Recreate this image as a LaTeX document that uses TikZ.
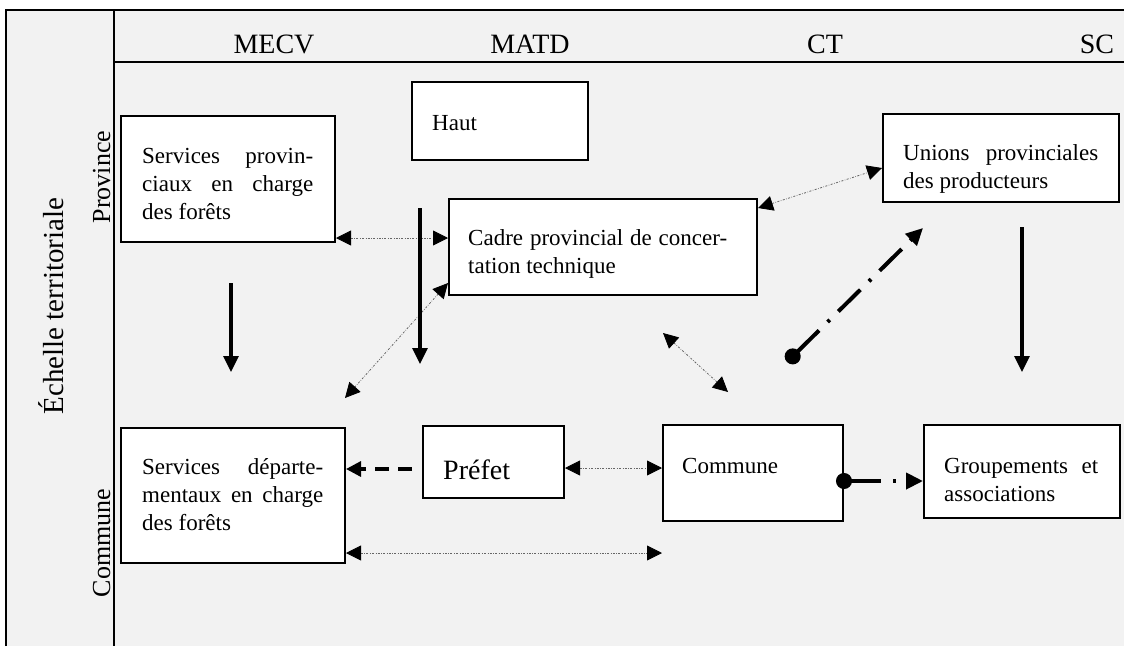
\documentclass[tikz,border=0pt]{standalone}
\usepackage{fontspec}
\setmainfont{Liberation Serif}
\usetikzlibrary{arrows.meta,calc}
\definecolor{bggray}{HTML}{F2F2F2}
\begin{document}
\begin{tikzpicture}[x=1pt,y=-1pt,
  frame/.style={line width=2pt, draw=black},
  box/.style={draw=black, line width=2pt, fill=white, inner sep=0pt, anchor=north west},
  txt/.style={inner sep=0pt, anchor=base west, font=\fontsize{23}{28}\selectfont},
  head/.style={inner sep=0pt, anchor=base, font=\fontsize{28}{32}\selectfont},
  side/.style={inner sep=0pt, anchor=base, rotate=90, font=\fontsize{26}{30}\selectfont},
  dots/.style={line width=0.8pt, draw=black!60, dash pattern=on 2pt off 1.5pt on 0.6pt off 1.5pt,
    {Triangle[length=15pt,width=15pt,black]}-{Triangle[length=15pt,width=15pt,black]}},
  solidarrow/.style={line width=3.2pt, -{Triangle[length=16pt,width=15pt]}},
  dasharrow/.style={line width=3.2pt, dash pattern=on 14pt off 9pt, -{Triangle[length=15pt,width=15pt]}},
  dotdash/.style={line width=4pt, dash pattern=on 31pt off 12pt on 3pt off 12pt,
    {Circle[length=16pt]}-{Triangle[length=17pt,width=16pt]}}]
\useasboundingbox (0,0) rectangle (1124,646);
% background and frame
\fill[bggray] (6,10) rectangle (1124,646);
\draw[frame] (6,646) -- (6,10) -- (1124,10);
\draw[frame] (114,10) -- (114,646);
\draw[frame] (114,62) -- (1124,62);
% headers
\node[head] (mecv) at (274,53) {MECV};
\node[head] (matd) at (530,53) {MATD};
\node[head] (ct) at (825,53) {CT};
\node[head] (sc) at (1097,53) {SC};
\node[side, font=\fontsize{29}{34}\selectfont] (echelle) at (63,306) {Échelle territoriale};
\node[side] (prov) at (110,177) {Province};
\node[side] (comm) at (110,543) {Commune};
% boxes
\node[box, minimum width=214pt, minimum height=126pt] (sp) at (120,115) {};
\node[box, minimum width=176pt, minimum height=78pt] (haut) at (411,81) {};
\node[box, minimum width=308pt, minimum height=96pt] (cadre) at (448,198) {};
\node[box, minimum width=236pt, minimum height=88pt] (unions) at (882,113) {};
\node[box, minimum width=224pt, minimum height=135pt] (sd) at (120,427) {};
\node[box, minimum width=141pt, minimum height=72pt] (prefet) at (422,425) {};
\node[box, minimum width=180pt, minimum height=96pt] (commune) at (662,424) {};
\node[box, minimum width=196pt, minimum height=93pt] (groupe) at (923,424) {};
% texts
\node[txt] (sp-t) at (142,163) {\parbox[t]{171pt}{\makebox[\linewidth][s]{Services provin-}\\\makebox[\linewidth][s]{ciaux en charge}\\des forêts}};
\node[txt] (haut-t) at (432,130) {Haut};
\node[txt] (cadre-t) at (468,245) {\parbox[t]{259pt}{\makebox[\linewidth][s]{Cadre provincial de concer-}\\tation technique}};
\node[txt] (unions-t) at (903,160) {\parbox[t]{195pt}{\makebox[\linewidth][s]{Unions provinciales}\\des producteurs}};
\node[txt] (sd-t) at (142,474) {\parbox[t]{181pt}{\makebox[\linewidth][s]{Services départe-}\\\makebox[\linewidth][s]{mentaux en charge}\\des forêts}};
\node[txt, font=\fontsize{28}{32}\selectfont] (prefet-t) at (443,479) {Préfet};
\node[txt] (commune-t) at (682,473) {Commune};
\node[txt] (groupe-t) at (944,473) {\parbox[t]{154pt}{\makebox[\linewidth][s]{Groupements et}\\associations}};
% free connector ends
\coordinate (v1a) at (420,208); \coordinate (v1b) at (420,364);
\coordinate (v2a) at (231,283); \coordinate (v2b) at (231,372);
\coordinate (v3a) at (1022,227); \coordinate (v3b) at (1022,372);
\coordinate (d1) at (345,398);
\coordinate (d2a) at (663,333); \coordinate (d2b) at (728,392);
\coordinate (g1) at (787,362); \coordinate (g2) at (923,228);
\coordinate (k1) at (662,553);
\coordinate (pf) at (412,469);
% connectors
\draw[dots] (sp.east |- 0,238) -- (cadre.west |- 0,238);
\draw[dots] (cadre.west |- 0,283) -- (d1);
\draw[dots] (cadre.east |- 0,208) -- (unions.west |- 0,168);
\draw[dots] (d2a) -- (d2b);
\draw[dots] (prefet.east |- 0,468) -- (commune.west |- 0,468);
\draw[dots] (sd.east |- 0,553) -- (k1);
\draw[solidarrow] (v1a) -- (v1b);
\draw[solidarrow] (v2a) -- (v2b);
\draw[solidarrow] (v3a) -- (v3b);
\draw[dasharrow] (pf) -- (sd.east |- 0,469);
\draw[dotdash] (g1) -- (g2);
\draw[dotdash] ($(commune.east |- 0,481)+(-8,0)$) -- (groupe.west |- 0,481);
\end{tikzpicture}
\end{document}
